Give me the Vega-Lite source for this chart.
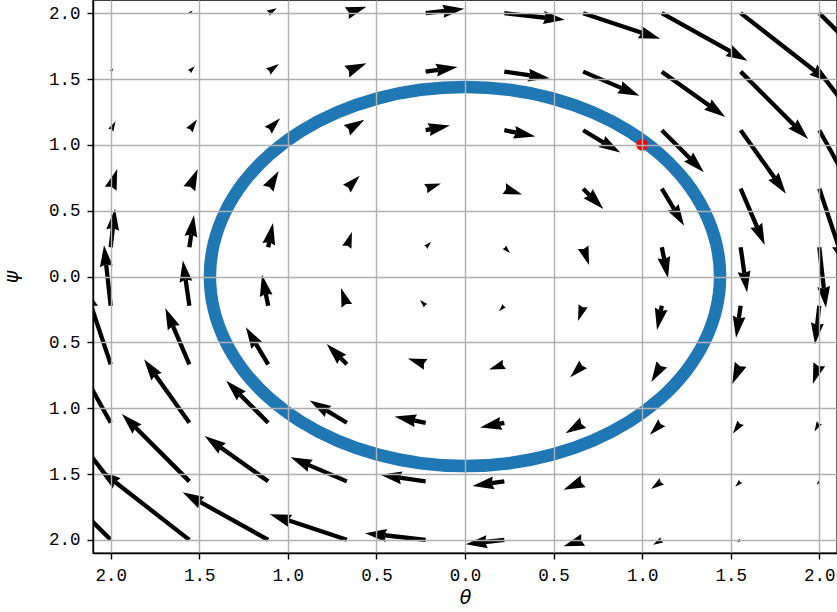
{
  "$schema": "https://vega.github.io/schema/vega-lite/v6.json",
  "width": 744,
  "height": 553,
  "autosize": {"type": "none"},
  "padding": {"left": 93, "top": 0, "right": 0, "bottom": 59},
  "background": "white",
  "config": {
    "view": {"stroke": "black", "strokeWidth": 1.4},
    "axis": {
      "grid": true,
      "gridColor": "#b0b0b0",
      "gridWidth": 1.4,
      "domainColor": "black",
      "domainWidth": 1.4,
      "tickColor": "black",
      "tickWidth": 1.4,
      "tickSize": 6,
      "labelFont": "Liberation Mono",
      "labelFontSize": 17.5,
      "labelColor": "black",
      "labelPadding": 7,
      "labelFlush": false,
      "labelOverlap": false,
      "titleFont": "DejaVu Sans",
      "titleFontStyle": "italic",
      "titleFontWeight": "normal",
      "titleFontSize": 19,
      "titleColor": "black",
      "zindex": 1
    },
    "axisX": {"titlePadding": 5},
    "axisY": {"titlePadding": 27}
  },
  "datasets": {
    "field": [
      {"theta": -2, "psi": 2, "u": 1.3, "v": 1.3},
      {"theta": -1.556, "psi": 2, "u": 3.4, "v": 2.6},
      {"theta": -1.111, "psi": 2, "u": 8.6, "v": 4.8},
      {"theta": -0.667, "psi": 2, "u": 19.6, "v": 6.5},
      {"theta": -0.222, "psi": 2, "u": 38.6, "v": 4.3},
      {"theta": 0.222, "psi": 2, "u": 60.6, "v": -6.7},
      {"theta": 0.667, "psi": 2, "u": 77, "v": -25.7},
      {"theta": 1.111, "psi": 2, "u": 85.6, "v": -47.6},
      {"theta": 1.556, "psi": 2, "u": 89.6, "v": -69.7},
      {"theta": 2, "psi": 2, "u": 91, "v": -91},
      {"theta": -2, "psi": 1.556, "u": 2.6, "v": 3.4},
      {"theta": -1.556, "psi": 1.556, "u": 5.4, "v": 5.4},
      {"theta": -1.111, "psi": 1.556, "u": 10.7, "v": 7.7},
      {"theta": -0.667, "psi": 1.556, "u": 19.6, "v": 8.4},
      {"theta": -0.222, "psi": 1.556, "u": 31.9, "v": 4.6},
      {"theta": 0.222, "psi": 1.556, "u": 45.3, "v": -6.5},
      {"theta": 0.667, "psi": 1.556, "u": 56.3, "v": -24.1},
      {"theta": 1.111, "psi": 1.556, "u": 63.5, "v": -45.3},
      {"theta": 1.556, "psi": 1.556, "u": 67.5, "v": -67.5},
      {"theta": 2, "psi": 1.556, "u": 69.7, "v": -89.6},
      {"theta": -2, "psi": 1.111, "u": 4.8, "v": 8.6},
      {"theta": -1.556, "psi": 1.111, "u": 7.7, "v": 10.7},
      {"theta": -1.111, "psi": 1.111, "u": 11.9, "v": 11.9},
      {"theta": -0.667, "psi": 1.111, "u": 17.6, "v": 10.5},
      {"theta": -0.222, "psi": 1.111, "u": 24.2, "v": 4.8},
      {"theta": 0.222, "psi": 1.111, "u": 31, "v": -6.2},
      {"theta": 0.667, "psi": 1.111, "u": 37.1, "v": -22.3},
      {"theta": 1.111, "psi": 1.111, "u": 42, "v": -42},
      {"theta": 1.556, "psi": 1.111, "u": 45.3, "v": -63.5},
      {"theta": 2, "psi": 1.111, "u": 47.6, "v": -85.6},
      {"theta": -2, "psi": 0.667, "u": 6.5, "v": 19.6},
      {"theta": -1.556, "psi": 0.667, "u": 8.4, "v": 19.6},
      {"theta": -1.111, "psi": 0.667, "u": 10.5, "v": 17.6},
      {"theta": -0.667, "psi": 0.667, "u": 12.9, "v": 12.9},
      {"theta": -0.222, "psi": 0.667, "u": 15.3, "v": 5.1},
      {"theta": 0.222, "psi": 0.667, "u": 17.8, "v": -5.9},
      {"theta": 0.667, "psi": 0.667, "u": 20.2, "v": -20.2},
      {"theta": 1.111, "psi": 0.667, "u": 22.3, "v": -37.1},
      {"theta": 1.556, "psi": 0.667, "u": 24.1, "v": -56.3},
      {"theta": 2, "psi": 0.667, "u": 25.7, "v": -77},
      {"theta": -2, "psi": 0.222, "u": 4.3, "v": 38.6},
      {"theta": -1.556, "psi": 0.222, "u": 4.6, "v": 31.9},
      {"theta": -1.111, "psi": 0.222, "u": 4.8, "v": 24.2},
      {"theta": -0.667, "psi": 0.222, "u": 5.1, "v": 15.3},
      {"theta": -0.222, "psi": 0.222, "u": 5.4, "v": 5.4},
      {"theta": 0.222, "psi": 0.222, "u": 5.7, "v": -5.7},
      {"theta": 0.667, "psi": 0.222, "u": 5.9, "v": -17.8},
      {"theta": 1.111, "psi": 0.222, "u": 6.2, "v": -31},
      {"theta": 1.556, "psi": 0.222, "u": 6.5, "v": -45.3},
      {"theta": 2, "psi": 0.222, "u": 6.7, "v": -60.6},
      {"theta": -2, "psi": -0.222, "u": -6.7, "v": 60.6},
      {"theta": -1.556, "psi": -0.222, "u": -6.5, "v": 45.3},
      {"theta": -1.111, "psi": -0.222, "u": -6.2, "v": 31},
      {"theta": -0.667, "psi": -0.222, "u": -5.9, "v": 17.8},
      {"theta": -0.222, "psi": -0.222, "u": -5.7, "v": 5.7},
      {"theta": 0.222, "psi": -0.222, "u": -5.4, "v": -5.4},
      {"theta": 0.667, "psi": -0.222, "u": -5.1, "v": -15.3},
      {"theta": 1.111, "psi": -0.222, "u": -4.8, "v": -24.2},
      {"theta": 1.556, "psi": -0.222, "u": -4.6, "v": -31.9},
      {"theta": 2, "psi": -0.222, "u": -4.3, "v": -38.6},
      {"theta": -2, "psi": -0.667, "u": -25.7, "v": 77},
      {"theta": -1.556, "psi": -0.667, "u": -24.1, "v": 56.3},
      {"theta": -1.111, "psi": -0.667, "u": -22.3, "v": 37.1},
      {"theta": -0.667, "psi": -0.667, "u": -20.2, "v": 20.2},
      {"theta": -0.222, "psi": -0.667, "u": -17.8, "v": 5.9},
      {"theta": 0.222, "psi": -0.667, "u": -15.3, "v": -5.1},
      {"theta": 0.667, "psi": -0.667, "u": -12.9, "v": -12.9},
      {"theta": 1.111, "psi": -0.667, "u": -10.5, "v": -17.6},
      {"theta": 1.556, "psi": -0.667, "u": -8.4, "v": -19.6},
      {"theta": 2, "psi": -0.667, "u": -6.5, "v": -19.6},
      {"theta": -2, "psi": -1.111, "u": -47.6, "v": 85.6},
      {"theta": -1.556, "psi": -1.111, "u": -45.3, "v": 63.5},
      {"theta": -1.111, "psi": -1.111, "u": -42, "v": 42},
      {"theta": -0.667, "psi": -1.111, "u": -37.1, "v": 22.3},
      {"theta": -0.222, "psi": -1.111, "u": -31, "v": 6.2},
      {"theta": 0.222, "psi": -1.111, "u": -24.2, "v": -4.8},
      {"theta": 0.667, "psi": -1.111, "u": -17.6, "v": -10.5},
      {"theta": 1.111, "psi": -1.111, "u": -11.9, "v": -11.9},
      {"theta": 1.556, "psi": -1.111, "u": -7.7, "v": -10.7},
      {"theta": 2, "psi": -1.111, "u": -4.8, "v": -8.6},
      {"theta": -2, "psi": -1.556, "u": -69.7, "v": 89.6},
      {"theta": -1.556, "psi": -1.556, "u": -67.5, "v": 67.5},
      {"theta": -1.111, "psi": -1.556, "u": -63.5, "v": 45.3},
      {"theta": -0.667, "psi": -1.556, "u": -56.3, "v": 24.1},
      {"theta": -0.222, "psi": -1.556, "u": -45.3, "v": 6.5},
      {"theta": 0.222, "psi": -1.556, "u": -31.9, "v": -4.6},
      {"theta": 0.667, "psi": -1.556, "u": -19.6, "v": -8.4},
      {"theta": 1.111, "psi": -1.556, "u": -10.7, "v": -7.7},
      {"theta": 1.556, "psi": -1.556, "u": -5.4, "v": -5.4},
      {"theta": 2, "psi": -1.556, "u": -2.6, "v": -3.4},
      {"theta": -2, "psi": -2, "u": -91, "v": 91},
      {"theta": -1.556, "psi": -2, "u": -89.6, "v": 69.7},
      {"theta": -1.111, "psi": -2, "u": -85.6, "v": 47.6},
      {"theta": -0.667, "psi": -2, "u": -77, "v": 25.7},
      {"theta": -0.222, "psi": -2, "u": -60.6, "v": 6.7},
      {"theta": 0.222, "psi": -2, "u": -38.6, "v": -4.3},
      {"theta": 0.667, "psi": -2, "u": -19.6, "v": -6.5},
      {"theta": 1.111, "psi": -2, "u": -8.6, "v": -4.8},
      {"theta": 1.556, "psi": -2, "u": -3.4, "v": -2.6},
      {"theta": 2, "psi": -2, "u": -1.3, "v": -1.3}
    ],
    "orbit": [
      {"k": 0, "theta": 1.44, "psi": 0},
      {"k": 1, "theta": 1.418, "psi": 0.25},
      {"k": 2, "theta": 1.353, "psi": 0.492},
      {"k": 3, "theta": 1.247, "psi": 0.72},
      {"k": 4, "theta": 1.103, "psi": 0.926},
      {"k": 5, "theta": 0.926, "psi": 1.103},
      {"k": 6, "theta": 0.72, "psi": 1.247},
      {"k": 7, "theta": 0.492, "psi": 1.353},
      {"k": 8, "theta": 0.25, "psi": 1.418},
      {"k": 9, "theta": 0, "psi": 1.44},
      {"k": 10, "theta": -0.25, "psi": 1.418},
      {"k": 11, "theta": -0.492, "psi": 1.353},
      {"k": 12, "theta": -0.72, "psi": 1.247},
      {"k": 13, "theta": -0.926, "psi": 1.103},
      {"k": 14, "theta": -1.103, "psi": 0.926},
      {"k": 15, "theta": -1.247, "psi": 0.72},
      {"k": 16, "theta": -1.353, "psi": 0.492},
      {"k": 17, "theta": -1.418, "psi": 0.25},
      {"k": 18, "theta": -1.44, "psi": 0},
      {"k": 19, "theta": -1.418, "psi": -0.25},
      {"k": 20, "theta": -1.353, "psi": -0.492},
      {"k": 21, "theta": -1.247, "psi": -0.72},
      {"k": 22, "theta": -1.103, "psi": -0.926},
      {"k": 23, "theta": -0.926, "psi": -1.103},
      {"k": 24, "theta": -0.72, "psi": -1.247},
      {"k": 25, "theta": -0.492, "psi": -1.353},
      {"k": 26, "theta": -0.25, "psi": -1.418},
      {"k": 27, "theta": 0, "psi": -1.44},
      {"k": 28, "theta": 0.25, "psi": -1.418},
      {"k": 29, "theta": 0.492, "psi": -1.353},
      {"k": 30, "theta": 0.72, "psi": -1.247},
      {"k": 31, "theta": 0.926, "psi": -1.103},
      {"k": 32, "theta": 1.103, "psi": -0.926},
      {"k": 33, "theta": 1.247, "psi": -0.72},
      {"k": 34, "theta": 1.353, "psi": -0.492},
      {"k": 35, "theta": 1.418, "psi": -0.25}
    ],
    "start": [{"theta": 1, "psi": 1}]
  },
  "layer": [
    {
      "data": {"name": "orbit"},
      "mark": {"type": "line", "interpolate": "cardinal-closed", "strokeWidth": 12.5, "color": "#1f77b4", "clip": true},
      "encoding": {
        "x": {"field": "theta", "type": "quantitative", "scale": {"domain": [-2.1, 2.1], "nice": false, "zero": false}, "axis": {"values": [-2, -1.5, -1, -0.5, 0, 0.5, 1, 1.5, 2], "labelExpr": "format(abs(datum.value), '.1f')", "title": "θ", "zindex": 1}},
        "y": {"field": "psi", "type": "quantitative", "scale": {"domain": [-2.1, 2.1], "nice": false, "zero": false}, "axis": {"values": [-2, -1.5, -1, -0.5, 0, 0.5, 1, 1.5, 2], "labelExpr": "format(abs(datum.value), '.1f')", "title": "ψ", "zindex": 1}},
        "order": {"field": "k", "type": "quantitative"}
      }
    },
    {
      "data": {"name": "field"},
      "transform": [
        {"calculate": "sqrt(datum.u*datum.u + datum.v*datum.v)", "as": "len"},
        {"filter": "datum.len > 21.5"},
        {"calculate": "max(0, (datum.len - 19.35) / datum.len)", "as": "f"},
        {"calculate": "datum.theta + datum.f * datum.u / 177.14", "as": "sx"},
        {"calculate": "datum.psi + datum.f * datum.v / 131.67", "as": "sy"}
      ],
      "mark": {"type": "rule", "strokeWidth": 4.3, "strokeCap": "butt", "color": "black", "clip": true},
      "encoding": {
        "x": {"field": "theta", "type": "quantitative", "scale": {"domain": [-2.1, 2.1], "nice": false, "zero": false}, "axis": {"values": [-2, -1.5, -1, -0.5, 0, 0.5, 1, 1.5, 2], "labelExpr": "format(abs(datum.value), '.1f')", "title": "θ", "zindex": 1}},
        "y": {"field": "psi", "type": "quantitative", "scale": {"domain": [-2.1, 2.1], "nice": false, "zero": false}, "axis": {"values": [-2, -1.5, -1, -0.5, 0, 0.5, 1, 1.5, 2], "labelExpr": "format(abs(datum.value), '.1f')", "title": "ψ", "zindex": 1}},
        "x2": {"field": "sx"},
        "y2": {"field": "sy"}
      }
    },
    {
      "data": {"name": "field"},
      "transform": [
        {"calculate": "sqrt(datum.u*datum.u + datum.v*datum.v)", "as": "len"},
        {"calculate": "datum.theta + datum.u / 177.14", "as": "tx"},
        {"calculate": "datum.psi + datum.v / 131.67", "as": "ty"},
        {"calculate": "atan2(datum.u, datum.v) * 180 / PI", "as": "ang"},
        {"calculate": "4 * pow(min(21.5, datum.len), 2)", "as": "hs"}
      ],
      "mark": {"type": "point", "shape": "M0,0L0.3,1L0,0.9L-0.3,1Z", "filled": true, "color": "black", "opacity": 1, "strokeWidth": 0, "clip": true},
      "encoding": {
        "x": {"field": "tx", "type": "quantitative", "scale": {"domain": [-2.1, 2.1], "nice": false, "zero": false}, "axis": {"values": [-2, -1.5, -1, -0.5, 0, 0.5, 1, 1.5, 2], "labelExpr": "format(abs(datum.value), '.1f')", "title": "θ", "zindex": 1}},
        "y": {"field": "ty", "type": "quantitative", "scale": {"domain": [-2.1, 2.1], "nice": false, "zero": false}, "axis": {"values": [-2, -1.5, -1, -0.5, 0, 0.5, 1, 1.5, 2], "labelExpr": "format(abs(datum.value), '.1f')", "title": "ψ", "zindex": 1}},
        "angle": {"field": "ang", "type": "quantitative", "scale": null},
        "size": {"field": "hs", "type": "quantitative", "scale": null}
      }
    },
    {
      "data": {"name": "start"},
      "mark": {"type": "point", "shape": "circle", "filled": true, "color": "#ff0000", "opacity": 1, "size": 140, "strokeWidth": 0},
      "encoding": {
        "x": {"field": "theta", "type": "quantitative", "scale": {"domain": [-2.1, 2.1], "nice": false, "zero": false}, "axis": {"values": [-2, -1.5, -1, -0.5, 0, 0.5, 1, 1.5, 2], "labelExpr": "format(abs(datum.value), '.1f')", "title": "θ", "zindex": 1}},
        "y": {"field": "psi", "type": "quantitative", "scale": {"domain": [-2.1, 2.1], "nice": false, "zero": false}, "axis": {"values": [-2, -1.5, -1, -0.5, 0, 0.5, 1, 1.5, 2], "labelExpr": "format(abs(datum.value), '.1f')", "title": "ψ", "zindex": 1}}
      }
    }
  ]
}
